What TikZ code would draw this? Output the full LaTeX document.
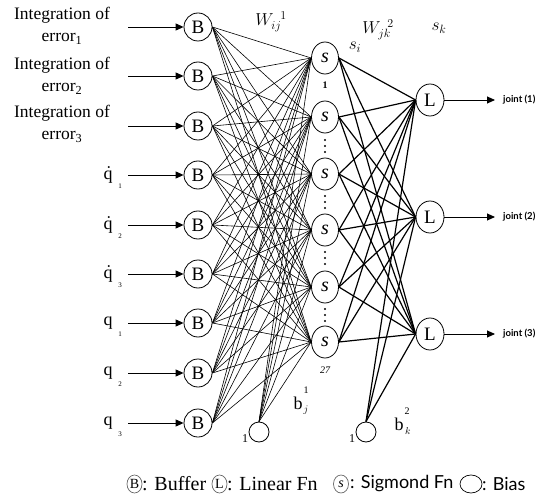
\documentclass[tikz,border=0pt]{standalone}
\usepackage{fontspec}
\setmainfont{Liberation Serif}
\newfontfamily\gillfont{Lato}
\usetikzlibrary{shapes.geometric,arrows.meta}
\begin{document}
\begin{tikzpicture}[x=1pt,y=-1pt,
  bnode/.style={circle,draw,line width=0.8pt,minimum size=28pt,inner sep=0pt,font=\fontsize{19}{19}\selectfont},
  snode/.style={ellipse,draw,line width=0.8pt,minimum width=27pt,minimum height=32pt,inner sep=0pt,font=\fontsize{20}{20}\selectfont\itshape},
  lnode/.style={ellipse,draw,line width=0.8pt,minimum width=28pt,minimum height=32pt,inner sep=0pt,font=\fontsize{19}{19}\selectfont},
  biasnode/.style={circle,draw,line width=0.8pt,minimum size=20pt,inner sep=0pt},
  thinline/.style={line width=0.6pt},
  thickline/.style={line width=1.2pt},
  arr/.style={line width=0.9pt,-{Triangle[length=8pt,width=7pt]}},
  lbl/.style={inner sep=0pt,font=\fontsize{17.5}{22}\selectfont},
  qlbl/.style={inner sep=0pt,font=\fontsize{18}{18}\selectfont},
  subl/.style={inner sep=0pt,font=\fontsize{7}{7}\selectfont},
  mlbl/.style={inner sep=0pt,font=\fontsize{18}{18}\selectfont},
  smalll/.style={inner sep=0pt,font=\fontsize{10}{10}\selectfont},
  legc/.style={ellipse,draw=black!60,line width=0.7pt,minimum width=15pt,minimum height=18pt,inner sep=0pt,font=\fontsize{14}{14}\selectfont},
  legt/.style={anchor=west,inner sep=0pt,font=\fontsize{20}{20}\selectfont},
  legs/.style={anchor=west,inner sep=0pt,font=\gillfont\fontsize{18}{18}\selectfont},
  jointlbl/.style={anchor=west,inner sep=0pt,font=\gillfont\bfseries\fontsize{9.5}{10}\selectfont},
  dotmark/.style={fill,circle,inner sep=0pt,minimum size=2.4pt}
]
\useasboundingbox (0,0) rectangle (543,497);

% buffer nodes
\foreach \i/\y in {1/27,2/76,3/126,4/175,5/225,6/274,7/323,8/373,9/423}
  \node[bnode] (B\i) at (198,\y) {B};
% sigmoid nodes
\foreach \j/\y in {1/58,2/117,3/174,4/230,5/287,6/342}
  \node[snode] (S\j) at (325,\y) {s};
% linear nodes
\foreach \k/\y in {1/100,2/217,3/334}
  \node[lnode] (L\k) at (430,\y) {L};
% bias nodes
\node[biasnode] (bias1) at (259,432) {};
\node[biasnode] (bias2) at (366,432) {};
\node[inner sep=0pt,font=\fontsize{12}{12}\selectfont] (one1) at (245,439) {1};
\node[inner sep=0pt,font=\fontsize{12}{12}\selectfont] (one2) at (352,439) {1};

% connections input -> hidden
\foreach \i in {1,...,9}
  \foreach \j in {1,...,6}
    \draw[thinline] (B\i.east) -- (S\j.west);
\foreach \j in {1,...,6}
  \draw[thinline] (bias1.north) -- (S\j.west);
% hidden -> output
\foreach \j in {1,...,6}
  \foreach \k in {1,2,3}
    \draw[thickline] (S\j.east) -- (L\k.west);
\foreach \k in {1,2,3}
  \draw[thickline] (bias2.north) -- (L\k.west);

% input labels and arrows
\node[lbl,align=center] (in1) at (62,26) {Integration of\\error\textsubscript{1}};
\node[lbl,align=center] (in2) at (62,76) {Integration of\\error\textsubscript{2}};
\node[lbl,align=center] (in3) at (62,124) {Integration of\\error\textsubscript{3}};
\foreach \i/\y/\t/\s in {4/175/{\.{q}}/1,5/225/{\.{q}}/2,6/274/{\.{q}}/3,7/323/q/1,8/373/q/2,9/423/q/3} {
  \node[qlbl] (in\i) at (108,\y) {\t};
  \node[subl] (sub\i) at (120,\y+11) {\s};
}
\foreach \i/\y in {1/27,2/76,3/126,4/175,5/225,6/274,7/323,8/373,9/423} {
  \coordinate (a\i) at (128,\y);
  \draw[arr] (a\i) -- (B\i.west);
}

% outputs
\foreach \k/\y in {1/100,2/217,3/334} {
  \coordinate (o\k) at (495,\y);
  \draw[arr] (L\k.east) -- (o\k);
  \node[jointlbl] (j\k) at (503,\y) {joint (\k)};
}

% layer labels
\node[mlbl] (w1) at (271,22) {$W_{ij}^{\;\;1}$};
\node[mlbl] (w2) at (378,30) {$W_{jk}^{\;\;2}$};
\node[mlbl] (si) at (355,47) {$s_{i}$};
\node[mlbl] (sk) at (439,28) {$s_{k}$};
\node[mlbl] (bj) at (298,403) {b};
\node[smalll] (bjsup) at (306,390) {1};
\node[smalll] (bjsub) at (306,410) {$j$};
\node[mlbl] (bk) at (399,424) {b};
\node[smalll] (bksup) at (407,411) {2};
\node[smalll] (bksub) at (408,431) {$k$};
\node[inner sep=0pt,font=\fontsize{10}{10}\selectfont\bfseries] (n1) at (325,85) {1};
\node[inner sep=0pt,font=\fontsize{10}{10}\selectfont\itshape] (n27) at (325,370) {27};

% vertical dots between sigmoid nodes
\foreach \m in {146,202,258,315}
  \foreach \d in {-6,0,6}
    \node[dotmark] at (325,\m+\d) {};

% legend
\node[legc] (lgB) at (134.5,484) {B};
\node[legt] (lgBt) at (142,484) {: Buffer};
\node[legc] (lgL) at (219.5,484) {L};
\node[legt] (lgLt) at (227,484) {: Linear Fn};
\node[legc,font=\fontsize{14}{14}\selectfont\itshape] (lgS) at (341,484) {s};
\node[legs] (lgSt) at (350,484) {: Sigmond Fn};
\node[legc,draw=black,minimum width=22pt] (lgO) at (471,484) {};
\node[legs] (lgOt) at (482,484) {: Bias};
\end{tikzpicture}
\end{document}
